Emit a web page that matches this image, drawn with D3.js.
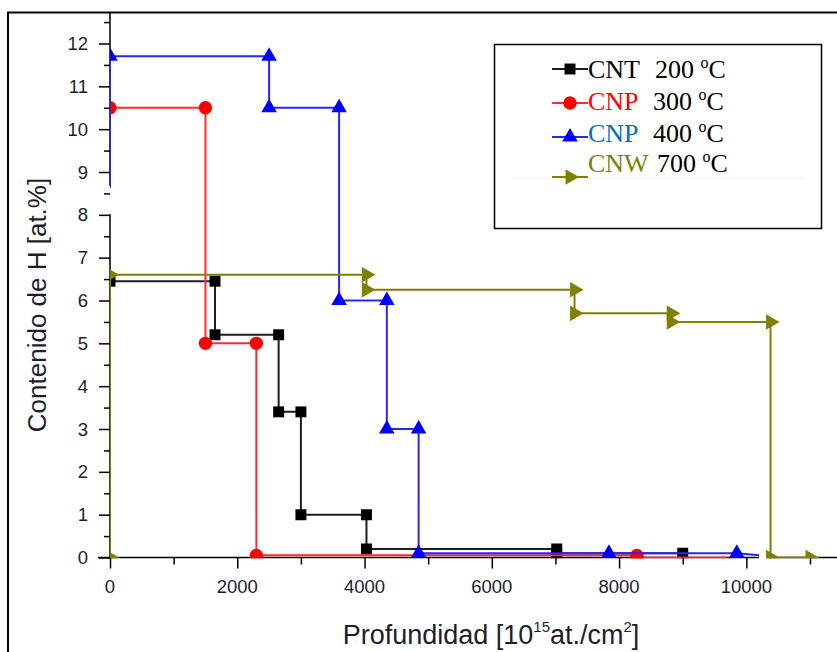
<!DOCTYPE html>
<html>
<head>
<meta charset="utf-8">
<script src="https://cdn.jsdelivr.net/npm/d3@7"></script>
<style>
  body { margin: 0; background: #fff; }
  svg { display: block; }
</style>
</head>
<body>
<div></div>
<script>
// step profiles (depth in 1e15 at/cm2, H content in at.%)
const cntX = [0, 1650, 1650, 2650, 2650, 3000, 3000, 4030, 4030, 7020, 7020, 9000];
const cntY = [6.45, 6.45, 5.2, 5.2, 3.4, 3.4, 1.0, 1.0, 0.2, 0.2, 0.1, 0.1];

const cnp300X = [0, 0, 1500, 1500, 2300, 2300, 8280, 8280, 9700];
const cnp300Y = [8.63, 10.5, 10.5, 5.0, 5.0, 0.05, 0.05, 0.0, 0.0];

const cnp400X = [0, 0, 2500, 2500, 3600, 3600, 4350, 4350, 4850, 4850, 7840, 9850, 10200];
const cnp400Y = [8.63, 11.7, 11.7, 10.5, 10.5, 6.0, 6.0, 3.0, 3.0, 0.1, 0.1, 0.1, 0.05];

const cnwX = [0, 0, 4030, 4030, 7300, 7300, 8820, 8820, 10380, 10380, 11000];
const cnwY = [0, 6.6, 6.6, 6.25, 6.25, 5.7, 5.7, 5.5, 5.5, 0, 0];

const seriesNames = ["CNT", "CNP", "CNP", "CNW"];
const seriesTemps = ["200", "300", "400", "700"];

const xTicks = d3.range(0, 11001, 1000);
const xLabels = [0, 2000, 4000, 6000, 8000, 10000];
const yTicks = d3.range(0, 12.51, 0.5);
const yLabels = d3.range(0, 13, 1);

const svgWidth = 837;
const svgHeight = 652;

const svg = d3.select("div")
  .append("svg")
  .attr("width", svgWidth)
  .attr("height", svgHeight);

const xScale = d3.scaleLinear().domain([0, 11000]).range([110, 810]);
const yScale = d3.scaleLinear().domain([0, 12]).range([557.5, 43.5]);

// outer frame (left and top edges only are inside the picture)
svg.append("path")
  .attr("d", "M8,652 L8,12.5 L837,12.5")
  .attr("fill", "none")
  .attr("stroke", "#000")
  .attr("stroke-width", 2);

// y axis, with a break between ~8.0 and ~8.65
const yAxis = svg.append("g")
  .attr("transform", "translate(110,0)")
  .call(d3.axisLeft(yScale)
    .tickValues(yTicks)
    .tickSize(0)
    .tickFormat(""));
yAxis.select(".domain").remove();
yAxis.selectAll(".tick line")
  .attr("x2", (d) => (Number.isInteger(d) ? -11 : -6))
  .attr("stroke", "#000")
  .attr("stroke-width", 1.5);
yAxis.append("g")
  .selectAll("text")
  .data(yLabels)
  .enter()
  .append("text")
  .attr("x", -22)
  .attr("y", (d) => yScale(d) + 6.5)
  .attr("text-anchor", "end")
  .attr("font-family", "Liberation Sans, Arial, sans-serif")
  .attr("font-size", 18.5)
  .attr("fill", "#1e1e2a")
  .text((d) => d);
yAxis.append("path")
  .attr("d", `M0,12 L0,186 M0,214 L0,${yScale(0)}`)
  .attr("stroke", "#000")
  .attr("stroke-width", 1.5);

// x axis, with a short break after 10000
const xAxis = svg.append("g")
  .attr("transform", `translate(0,${yScale(0)})`)
  .call(d3.axisBottom(xScale)
    .tickValues(xTicks)
    .tickSize(0)
    .tickFormat(""));
xAxis.select(".domain").remove();
xAxis.selectAll(".tick line")
  .attr("y2", (d) => (d % 2000 === 0 ? 11 : 7))
  .attr("stroke", "#000")
  .attr("stroke-width", 1.5);
xAxis.append("g")
  .selectAll("text")
  .data(xLabels)
  .enter()
  .append("text")
  .attr("x", (d) => xScale(d))
  .attr("y", 35)
  .attr("text-anchor", "middle")
  .attr("font-family", "Liberation Sans, Arial, sans-serif")
  .attr("font-size", 18.5)
  .attr("fill", "#1e1e2a")
  .text((d) => d);
xAxis.append("path")
  .attr("d", `M98,0 L${xScale(10200)},0 M${xScale(10320)},0 L837,0`)
  .attr("stroke", "#000")
  .attr("stroke-width", 1.5);

// axis titles
svg.append("text")
  .attr("transform", "translate(46,305) rotate(-90)")
  .attr("text-anchor", "middle")
  .attr("font-family", "Liberation Sans, Arial, sans-serif")
  .attr("font-size", 26)
  .attr("fill", "#1e1e2a")
  .text("Contenido de H [at.%]");

const xTitle = svg.append("text")
  .attr("x", 491)
  .attr("y", 644)
  .attr("text-anchor", "middle")
  .attr("font-family", "Liberation Sans, Arial, sans-serif")
  .attr("font-size", 27)
  .attr("fill", "#1e1e2a");
xTitle.append("tspan").text("Profundidad [10");
xTitle.append("tspan").attr("font-size", 15).attr("dy", -12).text("15");
xTitle.append("tspan").attr("dy", 12).text("at./cm");
xTitle.append("tspan").attr("font-size", 15).attr("dy", -12).text("2");
xTitle.append("tspan").attr("dy", 12).text("]");

// plot clip, markers are cut by the axes
svg.append("clipPath")
  .attr("id", "plotclip")
  .append("rect")
  .attr("x", 110)
  .attr("y", 12)
  .attr("width", 727)
  .attr("height", yScale(0) - 12 + 0.8);

const squareSym = d3.symbol().type(d3.symbolSquare).size(120);
const circleSym = d3.symbol().type(d3.symbolCircle).size(140);
const triSym = d3.symbol().type(d3.symbolTriangle).size(105);

const series = [
  { xs: cntX, ys: cntY, line: "#1e1e1e", fill: "#000", sym: squareSym, rot: 0, from: 0, to: cntX.length },
  { xs: cnp300X, ys: cnp300Y, line: "#ff2a2a", fill: "#ff0000", sym: circleSym, rot: 0, from: 1, to: cnp300X.length - 1 },
  { xs: cnp400X, ys: cnp400Y, line: "#2626ff", fill: "#0000ff", sym: triSym, rot: 0, from: 1, to: cnp400X.length - 1 },
  { xs: cnwX, ys: cnwY, line: "#808000", fill: "#808000", sym: triSym, rot: 90, from: 0, to: cnwX.length },
];

const plot = svg.append("g").attr("clip-path", "url(#plotclip)");
const line = d3.line().x((d) => xScale(d[0])).y((d) => yScale(d[1]));

series.forEach((s) => {
  const pts = s.xs.map((x, i) => [x, s.ys[i]]);
  const g = plot.append("g");
  g.append("path")
    .attr("d", line(pts))
    .attr("fill", "none")
    .attr("stroke", s.line)
    .attr("stroke-width", 2);
  g.selectAll("path.mark")
    .data(pts.slice(s.from, s.to))
    .enter()
    .append("path")
    .attr("class", "mark")
    .attr("d", s.sym)
    .attr("transform", (d) => `translate(${xScale(d[0])},${yScale(d[1])}) rotate(${s.rot})`)
    .attr("fill", s.fill);
});

// legend
const legend = svg.append("g");
legend.append("rect")
  .attr("x", 494.5)
  .attr("y", 44.5)
  .attr("width", 327)
  .attr("height", 184)
  .attr("fill", "#fff")
  .attr("stroke", "#000")
  .attr("stroke-width", 1.5);
legend.append("line")
  .attr("x1", 512).attr("x2", 806)
  .attr("y1", 178).attr("y2", 178)
  .attr("stroke", "#f0f0f0");

const nameColors = ["#000", "#ff0000", "#0070c0", "#808000"];
const rowText = [78, 110, 142, 172];
const rowLine = [69, 103, 137, 177];
const tempX = [655, 653, 653, 657];

series.forEach((s, i) => {
  legend.append("line")
    .attr("x1", 552).attr("x2", 588)
    .attr("y1", rowLine[i]).attr("y2", rowLine[i])
    .attr("stroke", s.line)
    .attr("stroke-width", 2);
  legend.append("path")
    .attr("d", s.sym)
    .attr("transform", `translate(570,${rowLine[i]}) rotate(${s.rot})`)
    .attr("fill", s.fill);
  legend.append("text")
    .attr("x", 588)
    .attr("y", rowText[i])
    .attr("font-family", "Liberation Serif, Times New Roman, serif")
    .attr("font-size", 26)
    .attr("fill", nameColors[i])
    .text(seriesNames[i]);
  const t = legend.append("text")
    .attr("x", tempX[i])
    .attr("y", rowText[i])
    .attr("font-family", "Liberation Serif, Times New Roman, serif")
    .attr("font-size", 26)
    .attr("fill", "#000");
  t.append("tspan").text(seriesTemps[i] + " ");
  t.append("tspan").attr("font-size", 16).attr("dy", -10).text("o");
  t.append("tspan").attr("dy", 10).text("C");
});
</script>
</body>
</html>
